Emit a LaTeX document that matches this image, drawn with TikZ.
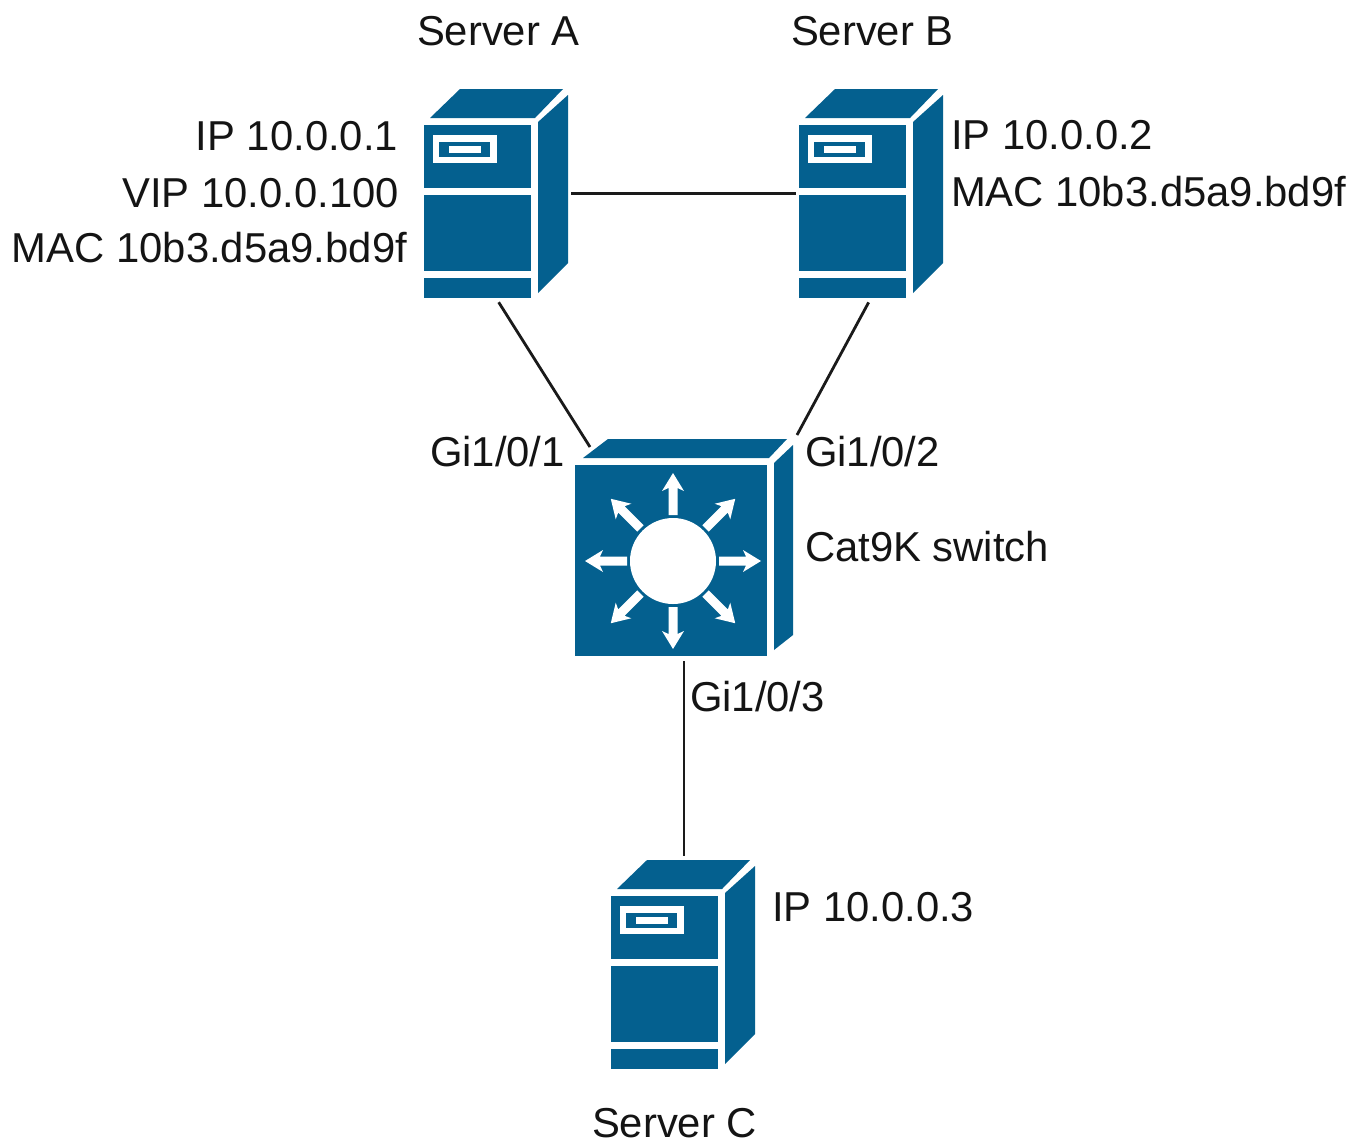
\documentclass[tikz,border=0pt]{standalone}
\usepackage{fontspec}
\setmainfont{Liberation Sans}
\definecolor{ciscoblue}{HTML}{04608F}
\definecolor{linkcol}{HTML}{1A1A1A}
\tikzset{
  lbl/.style={inner sep=0pt,outer sep=0pt,font=\fontsize{41.8}{41.8}\selectfont,text=black!92},
  lblw/.style={lbl,anchor=base west},
  link/.style={draw=linkcol,line width=2.8pt},
  devbox/.style={inner sep=0pt,outer sep=0pt},
  blue/.style={fill=ciscoblue,draw=none},
  whitefill/.style={fill=white,draw=none},
  serverpic/.pic={
    \fill[blue] (6,29) -- (36,0) -- (139,0) -- (111,29) -- cycle;
    \fill[blue] (0,36) rectangle (107,99);
    \fill[blue] (0,106) rectangle (107,182);
    \fill[blue] (0,189) rectangle (107,209);
    \fill[blue] (114,33) -- (144,6) -- (144,174) -- (114,204) -- cycle;
    \fill[whitefill] (9,46) rectangle (73,74);
    \fill[blue] (15,53) rectangle (66,68);
    \fill[whitefill] (25,57) rectangle (57,64);
  }
}
\begin{document}
\begin{tikzpicture}[x=1pt,y=-1pt]
\useasboundingbox (0,0) rectangle (1364,1144);
\fill[white] (0,0) rectangle (1364,1144);

% bounding nodes of the devices
\node[devbox,minimum width=144pt,minimum height=209pt] (serverA) at (496,193.5) {};
\node[devbox,minimum width=144pt,minimum height=209pt] (serverB) at (871,193.5) {};
\node[devbox,minimum width=144pt,minimum height=209pt] (serverC) at (684,964.5) {};
\node[devbox,minimum width=218pt,minimum height=217pt] (switch) at (684,547.5) {};
\coordinate (swA) at (590,447);
\coordinate (swB) at (797,435);

% connectors
\draw[link,shorten <=3pt,shorten >=3pt] (serverA.east) -- (serverB.west);
\draw[link,shorten <=5pt] (serverA.south) -- (swA);
\draw[link,shorten <=5pt] (serverB.south) -- (swB);
\draw[link,shorten <=5pt,shorten >=4pt] (switch.south) -- (serverC.north);

% servers
\pic at (424,89) {serverpic};
\pic at (799,89) {serverpic};
\pic at (611,860) {serverpic};

% switch
\fill[blue] (583,458) -- (608,439) -- (787,439) -- (769,458) -- cycle;
\fill[blue] (575,465) rectangle (767,656);
\fill[blue] (774,463) -- (793,445) -- (793,635) -- (774,650) -- cycle;
\fill[whitefill] (673,561) circle (43);
\foreach \a in {0,45,...,315}{
  \fill[whitefill,shift={(673,561)},rotate=\a]
    (46,-4.5) -- (73,-4.5) -- (70,-11) -- (88,0) -- (70,11) -- (73,4.5) -- (46,4.5) -- cycle;
}

% labels
\node[lblw] (tA) at (417,45) {Server A};
\node[lblw] (tB) at (791,45) {Server B};
\node[lblw] (tC) at (592,1137) {Server C};
\node[lbl,anchor=base east] (ipA) at (398,150) {IP 10.0.0.1};
\node[lbl,anchor=base east] (vipA) at (399,207) {VIP 10.0.0.100};
\node[lbl,anchor=base east] (macA) at (407,262) {MAC 10b3.d5a9.bd9f};
\node[lblw] (ipB) at (951,149) {IP 10.0.0.2};
\node[lblw] (macB) at (951,206) {MAC 10b3.d5a9.bd9f};
\node[lblw] (g1) at (430,466) {Gi1/0/1};
\node[lblw] (g2) at (805,466) {Gi1/0/2};
\node[lblw] (sw) at (805,561) {Cat9K switch};
\node[lblw] (g3) at (690,711) {Gi1/0/3};
\node[lblw] (ipC) at (772,921) {IP 10.0.0.3};
\end{tikzpicture}
\end{document}
